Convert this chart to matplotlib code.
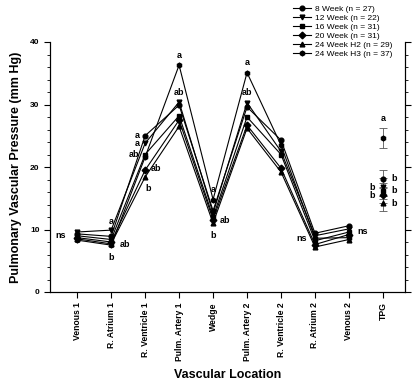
import matplotlib
matplotlib.use("Agg")
import matplotlib.pyplot as plt
import numpy as np

plt.rcParams['font.family'] = ['Liberation Sans', 'DejaVu Sans']

categories = ["Venous 1", "R. Atrium 1", "R. Ventricle 1", "Pulm. Artery 1", "Wedge",
              "Pulm. Artery 2", "R. Ventricle 2", "R. Atrium 2", "Venous 2", "TPG"]
series_names = ["8 Week (n = 27)", "12 Week (n = 22)", "16 Week (n = 31)",
                "20 Week (n = 31)", "24 Week H2 (n = 29)", "24 Week H3 (n = 37)"]
markers = ["o", "v", "s", "D", "^", "h"]

# pressures at the 9 vascular locations
w8  = [9.3, 8.9, 25.0, 29.9, 13.0, 29.6, 24.3, 9.4, 10.6]
w12 = [9.6, 9.9, 23.8, 30.4, 12.6, 30.3, 22.5, 9.0, 10.1]
w16 = [9.0, 8.4, 22.0, 28.2, 12.0, 28.0, 22.0, 8.2, 9.6]
w20 = [8.7, 8.0, 19.5, 27.5, 11.6, 26.7, 19.8, 7.6, 9.2]
h2  = [8.5, 7.7, 18.4, 26.5, 11.0, 26.2, 19.2, 7.2, 8.4]
h3  = [8.3, 7.5, 21.6, 36.3, 14.8, 35.1, 23.5, 8.6, 8.7]
series = [w8, w12, w16, w20, h2, h3]

# TPG mean and SE
tpg_mean = [18.1, 16.8, 16.2, 15.5, 14.2, 24.6]
tpg_se   = [1.4, 1.4, 1.3, 1.3, 1.2, 1.6]

# significance letters: (category index, value, text)
letters = [
    (0, 9.0, "ns"),
    (1, 9.9, "a"), (1, 8.0, "ab"), (1, 7.5, "b"),
    (2, 25.0, "a"), (2, 23.8, "a"), (2, 22.0, "ab"), (2, 19.5, "ab"), (2, 18.4, "b"),
    (3, 36.3, "a"), (3, 30.4, "ab"),
    (4, 14.8, "a"), (4, 11.6, "ab"), (4, 11.0, "b"),
    (5, 35.1, "a"), (5, 30.3, "ab"),
    (7, 8.6, "ns"),
    (8, 9.6, "ns"),
    (9, 24.6, "a"), (9, 18.1, "b"), (9, 16.8, "b"), (9, 16.2, "b"), (9, 15.5, "b"), (9, 14.2, "b"),
]
# offsets (points) for letters
offsets = [
    (-8, 0, "right"),
    (0, 6, "center"), (6, -2, "left"), (0, -9, "center"),
    (-4, 0, "right"), (-4, 0, "right"), (-4, 0, "right"), (4, 1, "left"), (2, -8, "center"),
    (0, 7, "center"), (0, 7, "center"),
    (0, 7, "center"), (5, -1, "left"), (0, -9, "center"),
    (0, 7, "center"), (0, 7, "center"),
    (-6, 0, "right"),
    (6, 0, "left"),
    (0, 14, "center"), (6, 0, "left"), (-6, 0, "right"), (6, 0, "left"), (-6, 0, "right"), (6, 0, "left"),
]

fig = plt.figure(figsize=(4.16, 3.88), dpi=100)
ax = fig.add_axes([50/416, 96/388, 355/416, 250/388])

x = np.arange(9)
handles = []
for vals, m, name in zip(series, markers, series_names):
    h, = ax.plot(x, vals, color="black", lw=0.8, marker=m, ms=3.4,
                 mfc="black", mec="black", label=name)
    handles.append(h)

ax2 = ax.twinx()
for mean, se, m in zip(tpg_mean, tpg_se, markers):
    ax2.errorbar([9], [mean], yerr=[se], fmt=m, color="black", ms=3.4,
                 elinewidth=0.6, capsize=3, capthick=0.6, ecolor="#555555")

for (ci, val, txt), (dx, dy, ha) in zip(letters, offsets):
    ax.annotate(txt, (ci, val), xytext=(dx, dy), textcoords="offset points",
                ha=ha, va="center", fontsize=6.5, fontweight="bold")

for a in (ax, ax2):
    a.set_ylim(0, 40)
    a.set_xlim(-0.8, 9.65)
    a.set_yticks([0, 10, 20, 30, 40])
    a.set_yticks(np.arange(0, 41, 2), minor=True)
    a.tick_params(axis="y", which="major", length=4, width=0.8, labelsize=6)
    a.tick_params(axis="y", which="minor", length=2, width=0.6)
    a.spines["top"].set_visible(False)
    for lab in a.get_yticklabels():
        lab.set_fontweight("bold")

ax.set_xticks(np.arange(10))
ax.set_xticklabels(categories, rotation=90, fontsize=6.2, fontweight="bold")
ax.tick_params(axis="x", length=4, width=0.8)
ax.set_ylabel("Pulmonary Vascular Pressure (mm Hg)", fontsize=9, fontweight="bold", labelpad=6)
ax.set_xlabel("Vascular Location", fontsize=9, fontweight="bold", labelpad=6)

fig.legend(handles=handles, loc="upper left", bbox_to_anchor=(288/416, 1.0),
           frameon=False, fontsize=6, handlelength=2.2, labelspacing=0.15,
           handletextpad=0.4, borderaxespad=0.2)

fig.savefig("out.png", dpi=100)
